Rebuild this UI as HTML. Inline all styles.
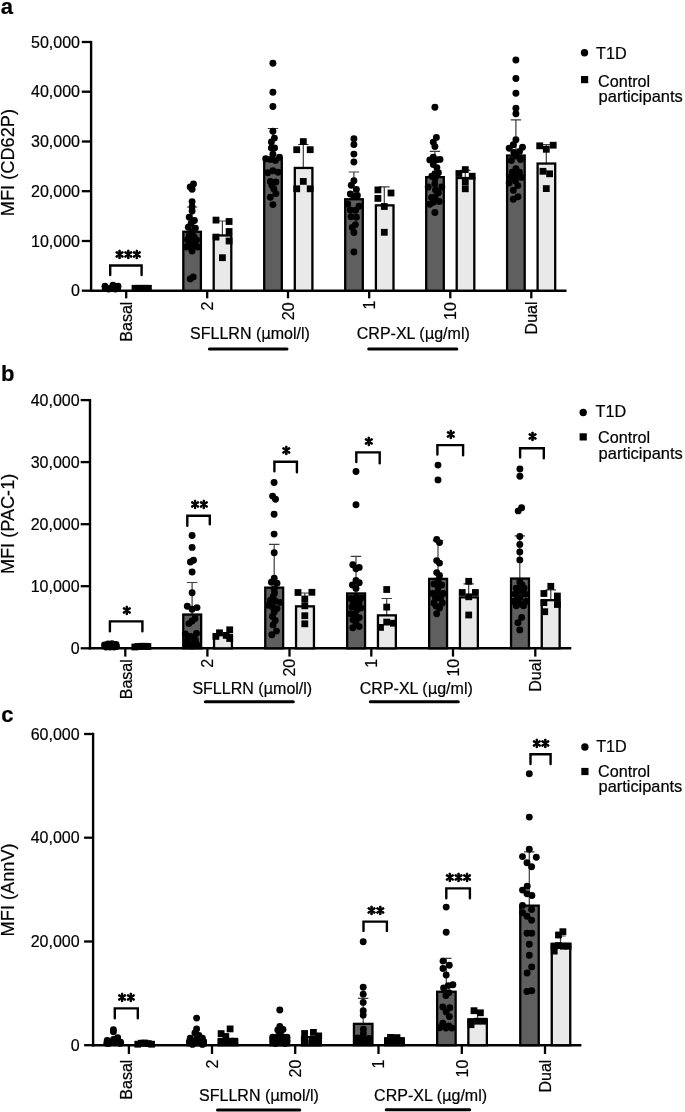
<!DOCTYPE html>
<html lang="en"><head><meta charset="utf-8"><title>Figure</title>
<style>
html,body{margin:0;padding:0;background:#fff}
svg{display:block;font-family:"Liberation Sans",sans-serif;fill:#000}
text{stroke:#000;stroke-width:0.2px}
</style></head><body>
<svg width="685" height="1112" viewBox="0 0 685 1112">
<rect width="685" height="1112" fill="#fff"/>
<g id="panelA">
<text x="0.8" y="14.2" font-size="22" text-anchor="start" font-weight="bold">a</text>
<line x1="91.1" y1="40.9" x2="91.1" y2="291.8" stroke="#000" stroke-width="2.4" stroke-linecap="butt"/>
<line x1="89.9" y1="290.7" x2="566.5" y2="290.7" stroke="#000" stroke-width="2.4" stroke-linecap="butt"/>
<line x1="81.8" y1="42.0" x2="91.1" y2="42.0" stroke="#000" stroke-width="2.3" stroke-linecap="butt"/>
<text x="80.0" y="47.7" font-size="16.0" text-anchor="end" >50,000</text>
<line x1="81.8" y1="91.7" x2="91.1" y2="91.7" stroke="#000" stroke-width="2.3" stroke-linecap="butt"/>
<text x="80.0" y="97.4" font-size="16.0" text-anchor="end" >40,000</text>
<line x1="81.8" y1="141.5" x2="91.1" y2="141.5" stroke="#000" stroke-width="2.3" stroke-linecap="butt"/>
<text x="80.0" y="147.2" font-size="16.0" text-anchor="end" >30,000</text>
<line x1="81.8" y1="191.2" x2="91.1" y2="191.2" stroke="#000" stroke-width="2.3" stroke-linecap="butt"/>
<text x="80.0" y="196.9" font-size="16.0" text-anchor="end" >20,000</text>
<line x1="81.8" y1="241.0" x2="91.1" y2="241.0" stroke="#000" stroke-width="2.3" stroke-linecap="butt"/>
<text x="80.0" y="246.7" font-size="16.0" text-anchor="end" >10,000</text>
<line x1="81.8" y1="290.7" x2="91.1" y2="290.7" stroke="#000" stroke-width="2.3" stroke-linecap="butt"/>
<text x="80.0" y="296.4" font-size="16.0" text-anchor="end" >0</text>
<text transform="translate(14.1 162.6) rotate(-90)" font-size="18.2" text-anchor="middle" >MFI (CD62P)</text>
<line x1="126.2" y1="290.7" x2="126.2" y2="298.3" stroke="#000" stroke-width="2.3" stroke-linecap="butt"/>
<line x1="207.2" y1="290.7" x2="207.2" y2="298.3" stroke="#000" stroke-width="2.3" stroke-linecap="butt"/>
<line x1="288.0" y1="290.7" x2="288.0" y2="298.3" stroke="#000" stroke-width="2.3" stroke-linecap="butt"/>
<line x1="369.2" y1="290.7" x2="369.2" y2="298.3" stroke="#000" stroke-width="2.3" stroke-linecap="butt"/>
<line x1="450.3" y1="290.7" x2="450.3" y2="298.3" stroke="#000" stroke-width="2.3" stroke-linecap="butt"/>
<line x1="531.3" y1="290.7" x2="531.3" y2="298.3" stroke="#000" stroke-width="2.3" stroke-linecap="butt"/>
<text transform="translate(131.9 301.6) rotate(-90)" font-size="16.0" text-anchor="end" >Basal</text>
<text transform="translate(212.8 301.5) rotate(-90)" font-size="16.0" text-anchor="end" >2</text>
<text transform="translate(293.7 302.4) rotate(-90)" font-size="16.0" text-anchor="end" >20</text>
<text transform="translate(374.9 300.6) rotate(-90)" font-size="16.0" text-anchor="end" >1</text>
<text transform="translate(455.9 302.2) rotate(-90)" font-size="16.0" text-anchor="end" >10</text>
<text transform="translate(537.0 301.5) rotate(-90)" font-size="16.0" text-anchor="end" >Dual</text>
<text x="250.0" y="339.2" font-size="16.0" text-anchor="middle" >SFLLRN (<tspan font-family="DejaVu Sans, sans-serif" font-size="15">μ</tspan>mol/l)</text>
<line x1="209.4" y1="349.1" x2="287.0" y2="349.1" stroke="#000" stroke-width="3.0" stroke-linecap="round"/>
<text x="413.3" y="339.4" font-size="16.0" text-anchor="middle" >CRP-XL (<tspan font-family="DejaVu Sans, sans-serif" font-size="15">μ</tspan>g/ml)</text>
<line x1="368.7" y1="349.1" x2="456.8" y2="349.1" stroke="#000" stroke-width="3.0" stroke-linecap="round"/>
<circle cx="584.5" cy="52.8" r="3.7"/>
<text x="596.0" y="58.7" font-size="16.2" text-anchor="start" >T1D</text>
<rect x="581.0" y="76.0" width="7.2" height="7.2"/>
<text x="598.0" y="86.8" font-size="16.2" text-anchor="start" >Control</text>
<text x="598.6" y="101.9" font-size="16.2" text-anchor="start" textLength="84.2" lengthAdjust="spacingAndGlyphs">participants</text>
<path d="M186.90 207.00H197.30M192.10 207.00V232.00" stroke="#3c3c3c" stroke-width="1.2" fill="none"/>
<path d="M217.20 221.00H227.60M222.40 221.00V236.00" stroke="#3c3c3c" stroke-width="1.2" fill="none"/>
<path d="M267.70 128.50H278.10M272.90 128.50V160.00" stroke="#3c3c3c" stroke-width="1.2" fill="none"/>
<path d="M298.10 144.50H308.50M303.30 144.50V168.00" stroke="#3c3c3c" stroke-width="1.2" fill="none"/>
<path d="M348.70 172.00H359.10M353.90 172.00V200.00" stroke="#3c3c3c" stroke-width="1.2" fill="none"/>
<path d="M379.10 186.80H389.50M384.30 186.80V206.00" stroke="#3c3c3c" stroke-width="1.2" fill="none"/>
<path d="M429.70 151.40H440.10M434.90 151.40V178.00" stroke="#3c3c3c" stroke-width="1.2" fill="none"/>
<path d="M460.10 170.40H470.50M465.30 170.40V179.00" stroke="#3c3c3c" stroke-width="1.2" fill="none"/>
<path d="M510.70 119.90H521.10M515.90 119.90V156.00" stroke="#3c3c3c" stroke-width="1.2" fill="none"/>
<path d="M541.10 144.60H551.50M546.30 144.60V164.00" stroke="#3c3c3c" stroke-width="1.2" fill="none"/>
<rect x="183.30" y="231.75" width="17.60" height="58.95" fill="#5f5f5f" stroke="#000" stroke-width="2.3"/>
<rect x="213.70" y="235.45" width="17.60" height="55.25" fill="#e9e9e9" stroke="#000" stroke-width="2.3"/>
<rect x="264.20" y="159.05" width="17.60" height="131.65" fill="#5f5f5f" stroke="#000" stroke-width="2.3"/>
<rect x="294.80" y="167.95" width="17.60" height="122.75" fill="#e9e9e9" stroke="#000" stroke-width="2.3"/>
<rect x="345.20" y="199.25" width="17.60" height="91.45" fill="#5f5f5f" stroke="#000" stroke-width="2.3"/>
<rect x="375.90" y="205.35" width="17.60" height="85.35" fill="#e9e9e9" stroke="#000" stroke-width="2.3"/>
<rect x="426.20" y="177.15" width="17.60" height="113.55" fill="#5f5f5f" stroke="#000" stroke-width="2.3"/>
<rect x="456.70" y="178.05" width="17.60" height="112.65" fill="#e9e9e9" stroke="#000" stroke-width="2.3"/>
<rect x="507.10" y="155.55" width="17.60" height="135.15" fill="#5f5f5f" stroke="#000" stroke-width="2.3"/>
<rect x="537.60" y="163.55" width="17.60" height="127.15" fill="#e9e9e9" stroke="#000" stroke-width="2.3"/>
<circle cx="105.0" cy="286.3" r="3.45"/>
<circle cx="113.0" cy="285.3" r="3.45"/>
<circle cx="118.0" cy="286.3" r="3.45"/>
<circle cx="108.5" cy="289.0" r="3.45"/>
<circle cx="115.5" cy="289.0" r="3.45"/>
<circle cx="111.0" cy="288.0" r="3.45"/>
<circle cx="105.3" cy="288.6" r="3.45"/>
<circle cx="117.6" cy="288.6" r="3.45"/>
<rect x="131.6" y="284.9" width="6.8" height="6.8"/>
<rect x="135.1" y="284.9" width="6.8" height="6.8"/>
<rect x="138.6" y="284.9" width="6.8" height="6.8"/>
<rect x="142.1" y="284.9" width="6.8" height="6.8"/>
<rect x="145.0" y="284.9" width="6.8" height="6.8"/>
<path d="M110.2 275.0V265.5H141.6V275.0" stroke="#000" stroke-width="2.4" fill="none" stroke-linecap="round" stroke-linejoin="miter"/>
<text x="128.2" y="261.0" font-family="IPAGothic, sans-serif" font-size="17.3" font-weight="bold" stroke="#000" stroke-width="0.35" text-anchor="middle">***</text>
<circle cx="193.5" cy="184.0" r="3.45"/>
<circle cx="190.2" cy="186.9" r="3.45"/>
<circle cx="192.1" cy="189.2" r="3.45"/>
<circle cx="192.1" cy="201.6" r="3.45"/>
<circle cx="192.1" cy="206.8" r="3.45"/>
<circle cx="192.1" cy="211.0" r="3.45"/>
<circle cx="189.2" cy="217.2" r="3.45"/>
<circle cx="194.4" cy="220.5" r="3.45"/>
<circle cx="191.1" cy="223.4" r="3.45"/>
<circle cx="188.3" cy="227.2" r="3.45"/>
<circle cx="195.4" cy="228.1" r="3.45"/>
<circle cx="189.2" cy="235.7" r="3.45"/>
<circle cx="194.0" cy="236.7" r="3.45"/>
<circle cx="191.0" cy="241.4" r="3.45"/>
<circle cx="186.4" cy="247.0" r="3.45"/>
<circle cx="197.8" cy="247.0" r="3.45"/>
<circle cx="192.0" cy="251.0" r="3.45"/>
<circle cx="189.0" cy="244.5" r="3.45"/>
<circle cx="195.0" cy="244.5" r="3.45"/>
<circle cx="192.0" cy="247.5" r="3.45"/>
<circle cx="192.0" cy="232.0" r="3.45"/>
<circle cx="187.5" cy="239.5" r="3.45"/>
<circle cx="196.5" cy="240.0" r="3.45"/>
<circle cx="190.2" cy="278.9" r="3.45"/>
<circle cx="193.2" cy="276.9" r="3.45"/>
<rect x="212.6" y="216.7" width="6.8" height="6.8"/>
<rect x="225.7" y="218.1" width="6.8" height="6.8"/>
<rect x="225.7" y="228.1" width="6.8" height="6.8"/>
<rect x="212.6" y="233.7" width="6.8" height="6.8"/>
<rect x="225.7" y="237.6" width="6.8" height="6.8"/>
<rect x="219.0" y="254.3" width="6.8" height="6.8"/>
<circle cx="272.9" cy="63.3" r="3.45"/>
<circle cx="272.9" cy="92.2" r="3.45"/>
<circle cx="272.9" cy="106.5" r="3.45"/>
<circle cx="272.9" cy="131.2" r="3.45"/>
<circle cx="274.4" cy="138.1" r="3.45"/>
<circle cx="271.4" cy="142.0" r="3.45"/>
<circle cx="271.4" cy="147.9" r="3.45"/>
<circle cx="274.6" cy="147.9" r="3.45"/>
<circle cx="272.9" cy="154.2" r="3.45"/>
<circle cx="279.5" cy="157.3" r="3.45"/>
<circle cx="265.7" cy="158.8" r="3.45"/>
<circle cx="270.3" cy="159.4" r="3.45"/>
<circle cx="275.4" cy="160.4" r="3.45"/>
<circle cx="267.8" cy="172.7" r="3.45"/>
<circle cx="272.9" cy="170.7" r="3.45"/>
<circle cx="278.0" cy="172.2" r="3.45"/>
<circle cx="270.3" cy="181.4" r="3.45"/>
<circle cx="275.9" cy="181.9" r="3.45"/>
<circle cx="271.9" cy="185.5" r="3.45"/>
<circle cx="273.9" cy="189.0" r="3.45"/>
<circle cx="275.9" cy="193.6" r="3.45"/>
<circle cx="270.3" cy="197.2" r="3.45"/>
<circle cx="272.9" cy="204.6" r="3.45"/>
<rect x="299.9" y="138.2" width="6.8" height="6.8"/>
<rect x="293.3" y="146.3" width="6.8" height="6.8"/>
<rect x="306.8" y="146.3" width="6.8" height="6.8"/>
<rect x="299.9" y="178.0" width="6.8" height="6.8"/>
<rect x="293.3" y="185.4" width="6.8" height="6.8"/>
<rect x="306.8" y="185.4" width="6.8" height="6.8"/>
<circle cx="353.9" cy="138.8" r="3.45"/>
<circle cx="353.9" cy="144.6" r="3.45"/>
<circle cx="353.9" cy="154.1" r="3.45"/>
<circle cx="353.9" cy="162.0" r="3.45"/>
<circle cx="353.9" cy="180.7" r="3.45"/>
<circle cx="351.3" cy="185.3" r="3.45"/>
<circle cx="356.4" cy="189.4" r="3.45"/>
<circle cx="350.3" cy="194.0" r="3.45"/>
<circle cx="357.4" cy="195.5" r="3.45"/>
<circle cx="353.9" cy="196.5" r="3.45"/>
<circle cx="347.7" cy="204.0" r="3.45"/>
<circle cx="359.0" cy="206.2" r="3.45"/>
<circle cx="350.3" cy="210.0" r="3.45"/>
<circle cx="355.6" cy="210.3" r="3.45"/>
<circle cx="351.0" cy="216.8" r="3.45"/>
<circle cx="356.4" cy="217.3" r="3.45"/>
<circle cx="355.4" cy="224.6" r="3.45"/>
<circle cx="352.3" cy="227.5" r="3.45"/>
<circle cx="353.9" cy="232.5" r="3.45"/>
<circle cx="353.9" cy="252.0" r="3.45"/>
<rect x="374.5" y="186.5" width="6.8" height="6.8"/>
<rect x="387.6" y="189.6" width="6.8" height="6.8"/>
<rect x="374.5" y="195.0" width="6.8" height="6.8"/>
<rect x="380.9" y="203.1" width="6.8" height="6.8"/>
<rect x="380.9" y="228.9" width="6.8" height="6.8"/>
<circle cx="434.9" cy="107.3" r="3.45"/>
<circle cx="436.4" cy="137.4" r="3.45"/>
<circle cx="433.3" cy="142.2" r="3.45"/>
<circle cx="434.9" cy="146.6" r="3.45"/>
<circle cx="433.3" cy="157.3" r="3.45"/>
<circle cx="429.8" cy="159.9" r="3.45"/>
<circle cx="440.0" cy="159.4" r="3.45"/>
<circle cx="433.3" cy="164.5" r="3.45"/>
<circle cx="436.9" cy="167.6" r="3.45"/>
<circle cx="438.4" cy="172.7" r="3.45"/>
<circle cx="434.9" cy="173.7" r="3.45"/>
<circle cx="431.8" cy="176.2" r="3.45"/>
<circle cx="434.9" cy="183.9" r="3.45"/>
<circle cx="428.2" cy="187.0" r="3.45"/>
<circle cx="441.8" cy="187.0" r="3.45"/>
<circle cx="438.4" cy="192.8" r="3.45"/>
<circle cx="431.6" cy="197.5" r="3.45"/>
<circle cx="439.2" cy="201.5" r="3.45"/>
<circle cx="433.3" cy="202.3" r="3.45"/>
<circle cx="429.8" cy="204.3" r="3.45"/>
<circle cx="434.9" cy="212.5" r="3.45"/>
<circle cx="434.9" cy="178.5" r="3.45"/>
<circle cx="435.5" cy="190.0" r="3.45"/>
<circle cx="435.0" cy="197.0" r="3.45"/>
<circle cx="436.5" cy="159.8" r="3.45"/>
<rect x="461.9" y="166.2" width="6.8" height="6.8"/>
<rect x="455.5" y="170.1" width="6.8" height="6.8"/>
<rect x="468.8" y="172.8" width="6.8" height="6.8"/>
<rect x="461.9" y="178.5" width="6.8" height="6.8"/>
<rect x="461.9" y="185.4" width="6.8" height="6.8"/>
<circle cx="515.9" cy="60.0" r="3.45"/>
<circle cx="515.9" cy="78.5" r="3.45"/>
<circle cx="515.9" cy="93.2" r="3.45"/>
<circle cx="515.9" cy="108.2" r="3.45"/>
<circle cx="515.9" cy="113.7" r="3.45"/>
<circle cx="515.9" cy="139.8" r="3.45"/>
<circle cx="513.3" cy="144.7" r="3.45"/>
<circle cx="509.2" cy="148.3" r="3.45"/>
<circle cx="522.5" cy="147.3" r="3.45"/>
<circle cx="519.5" cy="151.4" r="3.45"/>
<circle cx="513.8" cy="152.4" r="3.45"/>
<circle cx="511.3" cy="160.5" r="3.45"/>
<circle cx="520.5" cy="159.5" r="3.45"/>
<circle cx="515.9" cy="168.7" r="3.45"/>
<circle cx="512.3" cy="172.3" r="3.45"/>
<circle cx="519.5" cy="172.3" r="3.45"/>
<circle cx="511.3" cy="176.9" r="3.45"/>
<circle cx="521.5" cy="177.4" r="3.45"/>
<circle cx="515.9" cy="175.9" r="3.45"/>
<circle cx="509.2" cy="183.0" r="3.45"/>
<circle cx="517.9" cy="185.6" r="3.45"/>
<circle cx="513.3" cy="190.2" r="3.45"/>
<circle cx="517.9" cy="196.8" r="3.45"/>
<circle cx="513.3" cy="199.2" r="3.45"/>
<circle cx="516.0" cy="156.0" r="3.45"/>
<circle cx="515.5" cy="181.0" r="3.45"/>
<rect x="536.3" y="142.4" width="6.8" height="6.8"/>
<rect x="549.8" y="141.8" width="6.8" height="6.8"/>
<rect x="542.9" y="145.9" width="6.8" height="6.8"/>
<rect x="539.6" y="167.9" width="6.8" height="6.8"/>
<rect x="546.2" y="170.4" width="6.8" height="6.8"/>
<rect x="542.9" y="185.2" width="6.8" height="6.8"/>
</g>
<g id="panelB">
<text x="1.0" y="381.3" font-size="22" text-anchor="start" font-weight="bold">b</text>
<line x1="90.0" y1="399.0" x2="90.0" y2="649.4" stroke="#000" stroke-width="2.4" stroke-linecap="butt"/>
<line x1="88.8" y1="648.3" x2="571.3" y2="648.3" stroke="#000" stroke-width="2.4" stroke-linecap="butt"/>
<line x1="80.7" y1="400.1" x2="90.0" y2="400.1" stroke="#000" stroke-width="2.3" stroke-linecap="butt"/>
<text x="79.6" y="405.8" font-size="16.0" text-anchor="end" >40,000</text>
<line x1="80.7" y1="462.1" x2="90.0" y2="462.1" stroke="#000" stroke-width="2.3" stroke-linecap="butt"/>
<text x="79.6" y="467.8" font-size="16.0" text-anchor="end" >30,000</text>
<line x1="80.7" y1="524.2" x2="90.0" y2="524.2" stroke="#000" stroke-width="2.3" stroke-linecap="butt"/>
<text x="79.6" y="529.9" font-size="16.0" text-anchor="end" >20,000</text>
<line x1="80.7" y1="586.2" x2="90.0" y2="586.2" stroke="#000" stroke-width="2.3" stroke-linecap="butt"/>
<text x="79.6" y="592.0" font-size="16.0" text-anchor="end" >10,000</text>
<line x1="80.7" y1="648.3" x2="90.0" y2="648.3" stroke="#000" stroke-width="2.3" stroke-linecap="butt"/>
<text x="79.6" y="654.0" font-size="16.0" text-anchor="end" >0</text>
<text transform="translate(14.1 523.9) rotate(-90)" font-size="18.2" text-anchor="middle" textLength="100.4">MFI (PAC-1)</text>
<line x1="125.3" y1="648.3" x2="125.3" y2="656.6" stroke="#000" stroke-width="2.3" stroke-linecap="butt"/>
<line x1="207.4" y1="648.3" x2="207.4" y2="656.6" stroke="#000" stroke-width="2.3" stroke-linecap="butt"/>
<line x1="289.5" y1="648.3" x2="289.5" y2="656.6" stroke="#000" stroke-width="2.3" stroke-linecap="butt"/>
<line x1="371.3" y1="648.3" x2="371.3" y2="656.6" stroke="#000" stroke-width="2.3" stroke-linecap="butt"/>
<line x1="453.0" y1="648.3" x2="453.0" y2="656.6" stroke="#000" stroke-width="2.3" stroke-linecap="butt"/>
<line x1="535.3" y1="648.3" x2="535.3" y2="656.6" stroke="#000" stroke-width="2.3" stroke-linecap="butt"/>
<text transform="translate(132.2 659.2) rotate(-90)" font-size="16.0" text-anchor="end" >Basal</text>
<text transform="translate(213.1 658.8) rotate(-90)" font-size="16.0" text-anchor="end" >2</text>
<text transform="translate(295.2 658.8) rotate(-90)" font-size="16.0" text-anchor="end" >20</text>
<text transform="translate(377.0 658.8) rotate(-90)" font-size="16.0" text-anchor="end" >1</text>
<text transform="translate(458.7 658.8) rotate(-90)" font-size="16.0" text-anchor="end" >10</text>
<text transform="translate(541.0 658.8) rotate(-90)" font-size="16.0" text-anchor="end" >Dual</text>
<text x="252.3" y="694.0" font-size="16.0" text-anchor="middle" >SFLLRN (<tspan font-family="DejaVu Sans, sans-serif" font-size="15">μ</tspan>mol/l)</text>
<line x1="205.3" y1="701.7" x2="293.3" y2="701.7" stroke="#000" stroke-width="3.0" stroke-linecap="round"/>
<text x="416.3" y="694.0" font-size="16.0" text-anchor="middle" >CRP-XL (<tspan font-family="DejaVu Sans, sans-serif" font-size="15">μ</tspan>g/ml)</text>
<line x1="370.3" y1="701.7" x2="458.3" y2="701.7" stroke="#000" stroke-width="3.0" stroke-linecap="round"/>
<circle cx="583.2" cy="412.5" r="3.7"/>
<text x="595.6" y="417.0" font-size="16.2" text-anchor="start" >T1D</text>
<rect x="579.6" y="433.3" width="7.2" height="7.2"/>
<text x="598.0" y="443.0" font-size="16.2" text-anchor="start" >Control</text>
<text x="598.6" y="458.8" font-size="16.2" text-anchor="start" textLength="84.2" lengthAdjust="spacingAndGlyphs">participants</text>
<path d="M186.90 582.50H197.30M192.10 582.50V615.00" stroke="#3c3c3c" stroke-width="1.2" fill="none"/>
<path d="M269.00 544.30H279.40M274.20 544.30V588.00" stroke="#3c3c3c" stroke-width="1.2" fill="none"/>
<path d="M299.60 593.00H310.00M304.80 593.00V606.00" stroke="#3c3c3c" stroke-width="1.2" fill="none"/>
<path d="M350.80 556.30H361.20M356.00 556.30V594.00" stroke="#3c3c3c" stroke-width="1.2" fill="none"/>
<path d="M381.50 598.50H391.90M386.70 598.50V615.00" stroke="#3c3c3c" stroke-width="1.2" fill="none"/>
<path d="M432.80 540.60H443.20M438.00 540.60V579.00" stroke="#3c3c3c" stroke-width="1.2" fill="none"/>
<path d="M463.50 583.90H473.90M468.70 583.90V597.00" stroke="#3c3c3c" stroke-width="1.2" fill="none"/>
<path d="M514.60 535.90H525.00M519.80 535.90V579.00" stroke="#3c3c3c" stroke-width="1.2" fill="none"/>
<path d="M545.60 589.90H556.00M550.80 589.90V600.00" stroke="#3c3c3c" stroke-width="1.2" fill="none"/>
<rect x="183.25" y="614.55" width="17.90" height="33.75" fill="#5f5f5f" stroke="#000" stroke-width="2.3"/>
<rect x="214.05" y="635.05" width="17.90" height="13.25" fill="#e9e9e9" stroke="#000" stroke-width="2.3"/>
<rect x="265.25" y="587.65" width="17.90" height="60.65" fill="#5f5f5f" stroke="#000" stroke-width="2.3"/>
<rect x="296.05" y="606.35" width="17.90" height="41.95" fill="#e9e9e9" stroke="#000" stroke-width="2.3"/>
<rect x="347.15" y="593.45" width="17.90" height="54.85" fill="#5f5f5f" stroke="#000" stroke-width="2.3"/>
<rect x="377.95" y="615.35" width="17.90" height="32.95" fill="#e9e9e9" stroke="#000" stroke-width="2.3"/>
<rect x="429.15" y="578.85" width="17.90" height="69.45" fill="#5f5f5f" stroke="#000" stroke-width="2.3"/>
<rect x="459.95" y="597.35" width="17.90" height="50.95" fill="#e9e9e9" stroke="#000" stroke-width="2.3"/>
<rect x="511.05" y="578.55" width="17.90" height="69.75" fill="#5f5f5f" stroke="#000" stroke-width="2.3"/>
<rect x="541.75" y="600.15" width="17.90" height="48.15" fill="#e9e9e9" stroke="#000" stroke-width="2.3"/>
<circle cx="104.5" cy="645.0" r="3.45"/>
<circle cx="108.0" cy="644.0" r="3.45"/>
<circle cx="112.0" cy="643.8" r="3.45"/>
<circle cx="116.0" cy="644.5" r="3.45"/>
<circle cx="106.0" cy="647.0" r="3.45"/>
<circle cx="110.0" cy="647.0" r="3.45"/>
<circle cx="114.0" cy="647.0" r="3.45"/>
<circle cx="116.5" cy="646.5" r="3.45"/>
<rect x="131.4" y="643.6" width="6.8" height="6.8"/>
<rect x="134.6" y="643.1" width="6.8" height="6.8"/>
<rect x="138.1" y="642.9" width="6.8" height="6.8"/>
<rect x="141.6" y="642.9" width="6.8" height="6.8"/>
<rect x="144.5" y="643.1" width="6.8" height="6.8"/>
<path d="M109.9 631.2V621.4H142.4V631.2" stroke="#000" stroke-width="2.4" fill="none" stroke-linecap="round" stroke-linejoin="miter"/>
<text x="126.7" y="616.7" font-family="IPAGothic, sans-serif" font-size="17.3" font-weight="bold" stroke="#000" stroke-width="0.35" text-anchor="middle">*</text>
<circle cx="192.1" cy="535.5" r="3.45"/>
<circle cx="192.1" cy="547.4" r="3.45"/>
<circle cx="193.5" cy="560.3" r="3.45"/>
<circle cx="190.4" cy="562.0" r="3.45"/>
<circle cx="192.1" cy="572.0" r="3.45"/>
<circle cx="192.1" cy="592.7" r="3.45"/>
<circle cx="187.3" cy="606.3" r="3.45"/>
<circle cx="197.0" cy="607.6" r="3.45"/>
<circle cx="192.1" cy="609.3" r="3.45"/>
<circle cx="195.0" cy="618.5" r="3.45"/>
<circle cx="188.9" cy="623.6" r="3.45"/>
<circle cx="192.1" cy="621.0" r="3.45"/>
<circle cx="185.3" cy="633.9" r="3.45"/>
<circle cx="196.5" cy="633.4" r="3.45"/>
<circle cx="190.4" cy="636.4" r="3.45"/>
<circle cx="187.3" cy="640.5" r="3.45"/>
<circle cx="195.5" cy="640.5" r="3.45"/>
<circle cx="191.4" cy="643.6" r="3.45"/>
<circle cx="186.3" cy="645.1" r="3.45"/>
<circle cx="197.5" cy="645.1" r="3.45"/>
<circle cx="188.0" cy="637.0" r="3.45"/>
<circle cx="194.0" cy="638.0" r="3.45"/>
<circle cx="192.0" cy="646.0" r="3.45"/>
<rect x="226.3" y="626.4" width="6.8" height="6.8"/>
<rect x="216.1" y="629.4" width="6.8" height="6.8"/>
<rect x="212.5" y="633.0" width="6.8" height="6.8"/>
<rect x="222.8" y="632.0" width="6.8" height="6.8"/>
<rect x="226.3" y="635.1" width="6.8" height="6.8"/>
<path d="M187.3 525.8V515.8H209.8V524.2" stroke="#000" stroke-width="2.4" fill="none" stroke-linecap="round" stroke-linejoin="miter"/>
<text x="199.5" y="511.0" font-family="IPAGothic, sans-serif" font-size="17.3" font-weight="bold" stroke="#000" stroke-width="0.35" text-anchor="middle">**</text>
<circle cx="274.1" cy="482.5" r="3.45"/>
<circle cx="272.6" cy="496.1" r="3.45"/>
<circle cx="275.5" cy="499.2" r="3.45"/>
<circle cx="274.1" cy="514.2" r="3.45"/>
<circle cx="274.1" cy="534.1" r="3.45"/>
<circle cx="274.2" cy="552.8" r="3.45"/>
<circle cx="274.2" cy="578.3" r="3.45"/>
<circle cx="271.4" cy="582.2" r="3.45"/>
<circle cx="277.0" cy="583.3" r="3.45"/>
<circle cx="274.2" cy="588.9" r="3.45"/>
<circle cx="273.1" cy="596.8" r="3.45"/>
<circle cx="275.3" cy="601.3" r="3.45"/>
<circle cx="280.4" cy="602.4" r="3.45"/>
<circle cx="268.6" cy="605.2" r="3.45"/>
<circle cx="272.5" cy="606.9" r="3.45"/>
<circle cx="277.0" cy="608.6" r="3.45"/>
<circle cx="272.5" cy="616.5" r="3.45"/>
<circle cx="275.3" cy="620.4" r="3.45"/>
<circle cx="273.1" cy="624.9" r="3.45"/>
<circle cx="276.5" cy="631.1" r="3.45"/>
<circle cx="271.8" cy="634.8" r="3.45"/>
<circle cx="274.2" cy="612.0" r="3.45"/>
<circle cx="274.5" cy="593.0" r="3.45"/>
<circle cx="270.5" cy="600.5" r="3.45"/>
<rect x="294.6" y="589.1" width="6.8" height="6.8"/>
<rect x="308.5" y="588.9" width="6.8" height="6.8"/>
<rect x="301.4" y="595.6" width="6.8" height="6.8"/>
<rect x="301.4" y="602.4" width="6.8" height="6.8"/>
<rect x="301.4" y="612.3" width="6.8" height="6.8"/>
<rect x="301.4" y="620.4" width="6.8" height="6.8"/>
<path d="M274.4 471.3V461.8H296.9V472.3" stroke="#000" stroke-width="2.4" fill="none" stroke-linecap="round" stroke-linejoin="miter"/>
<text x="286.4" y="457.0" font-family="IPAGothic, sans-serif" font-size="17.3" font-weight="bold" stroke="#000" stroke-width="0.35" text-anchor="middle">*</text>
<circle cx="356.0" cy="471.5" r="3.45"/>
<circle cx="356.0" cy="504.8" r="3.45"/>
<circle cx="352.8" cy="564.8" r="3.45"/>
<circle cx="359.2" cy="567.4" r="3.45"/>
<circle cx="356.0" cy="568.7" r="3.45"/>
<circle cx="356.0" cy="580.5" r="3.45"/>
<circle cx="359.2" cy="582.8" r="3.45"/>
<circle cx="352.4" cy="585.0" r="3.45"/>
<circle cx="356.0" cy="588.4" r="3.45"/>
<circle cx="350.7" cy="598.5" r="3.45"/>
<circle cx="356.0" cy="597.4" r="3.45"/>
<circle cx="361.4" cy="597.9" r="3.45"/>
<circle cx="356.0" cy="603.5" r="3.45"/>
<circle cx="351.9" cy="606.9" r="3.45"/>
<circle cx="360.8" cy="608.0" r="3.45"/>
<circle cx="356.9" cy="609.7" r="3.45"/>
<circle cx="350.7" cy="613.7" r="3.45"/>
<circle cx="359.2" cy="617.6" r="3.45"/>
<circle cx="353.0" cy="619.8" r="3.45"/>
<circle cx="359.2" cy="626.6" r="3.45"/>
<circle cx="352.8" cy="627.7" r="3.45"/>
<circle cx="355.0" cy="614.5" r="3.45"/>
<circle cx="356.0" cy="622.5" r="3.45"/>
<circle cx="353.0" cy="601.5" r="3.45"/>
<circle cx="359.0" cy="602.5" r="3.45"/>
<rect x="383.3" y="586.1" width="6.8" height="6.8"/>
<rect x="383.3" y="603.7" width="6.8" height="6.8"/>
<rect x="383.3" y="618.7" width="6.8" height="6.8"/>
<rect x="390.0" y="619.8" width="6.8" height="6.8"/>
<rect x="377.1" y="624.0" width="6.8" height="6.8"/>
<path d="M356.3 462.1V452.4H379.7V463.3" stroke="#000" stroke-width="2.4" fill="none" stroke-linecap="round" stroke-linejoin="miter"/>
<text x="368.9" y="448.0" font-family="IPAGothic, sans-serif" font-size="17.3" font-weight="bold" stroke="#000" stroke-width="0.35" text-anchor="middle">*</text>
<circle cx="438.0" cy="465.1" r="3.45"/>
<circle cx="438.0" cy="479.9" r="3.45"/>
<circle cx="436.7" cy="539.5" r="3.45"/>
<circle cx="439.5" cy="542.6" r="3.45"/>
<circle cx="436.7" cy="560.6" r="3.45"/>
<circle cx="439.5" cy="563.1" r="3.45"/>
<circle cx="436.7" cy="572.6" r="3.45"/>
<circle cx="439.5" cy="575.4" r="3.45"/>
<circle cx="433.9" cy="583.9" r="3.45"/>
<circle cx="441.7" cy="585.0" r="3.45"/>
<circle cx="438.0" cy="586.7" r="3.45"/>
<circle cx="432.7" cy="593.4" r="3.45"/>
<circle cx="443.4" cy="593.4" r="3.45"/>
<circle cx="438.0" cy="597.9" r="3.45"/>
<circle cx="433.9" cy="603.0" r="3.45"/>
<circle cx="442.3" cy="603.0" r="3.45"/>
<circle cx="439.5" cy="608.0" r="3.45"/>
<circle cx="436.7" cy="613.7" r="3.45"/>
<circle cx="438.0" cy="591.5" r="3.45"/>
<circle cx="436.0" cy="606.0" r="3.45"/>
<circle cx="438.0" cy="580.5" r="3.45"/>
<circle cx="435.5" cy="598.0" r="3.45"/>
<circle cx="440.5" cy="598.0" r="3.45"/>
<rect x="465.3" y="577.9" width="6.8" height="6.8"/>
<rect x="458.8" y="589.1" width="6.8" height="6.8"/>
<rect x="472.0" y="589.1" width="6.8" height="6.8"/>
<rect x="465.3" y="593.4" width="6.8" height="6.8"/>
<rect x="465.3" y="611.6" width="6.8" height="6.8"/>
<path d="M437.4 454.6V445.1H463.1V455.3" stroke="#000" stroke-width="2.4" fill="none" stroke-linecap="round" stroke-linejoin="miter"/>
<text x="450.9" y="440.5" font-family="IPAGothic, sans-serif" font-size="17.3" font-weight="bold" stroke="#000" stroke-width="0.35" text-anchor="middle">*</text>
<circle cx="519.9" cy="469.0" r="3.45"/>
<circle cx="519.9" cy="476.3" r="3.45"/>
<circle cx="521.6" cy="507.8" r="3.45"/>
<circle cx="518.2" cy="510.9" r="3.45"/>
<circle cx="519.8" cy="536.5" r="3.45"/>
<circle cx="519.8" cy="544.4" r="3.45"/>
<circle cx="519.8" cy="551.9" r="3.45"/>
<circle cx="519.8" cy="559.9" r="3.45"/>
<circle cx="519.8" cy="582.0" r="3.45"/>
<circle cx="516.2" cy="588.1" r="3.45"/>
<circle cx="524.1" cy="588.1" r="3.45"/>
<circle cx="515.0" cy="594.1" r="3.45"/>
<circle cx="525.3" cy="594.1" r="3.45"/>
<circle cx="519.8" cy="597.8" r="3.45"/>
<circle cx="513.8" cy="601.4" r="3.45"/>
<circle cx="525.9" cy="601.4" r="3.45"/>
<circle cx="516.2" cy="605.7" r="3.45"/>
<circle cx="523.5" cy="605.7" r="3.45"/>
<circle cx="521.7" cy="617.4" r="3.45"/>
<circle cx="518.0" cy="622.7" r="3.45"/>
<circle cx="519.8" cy="629.9" r="3.45"/>
<circle cx="520.0" cy="591.0" r="3.45"/>
<circle cx="520.0" cy="604.0" r="3.45"/>
<circle cx="518.0" cy="598.5" r="3.45"/>
<circle cx="522.0" cy="585.0" r="3.45"/>
<rect x="547.4" y="582.9" width="6.8" height="6.8"/>
<rect x="540.5" y="590.1" width="6.8" height="6.8"/>
<rect x="554.0" y="592.6" width="6.8" height="6.8"/>
<rect x="540.5" y="599.2" width="6.8" height="6.8"/>
<rect x="554.0" y="601.1" width="6.8" height="6.8"/>
<rect x="541.3" y="608.3" width="6.8" height="6.8"/>
<path d="M520.1 457.4V448.2H543.8V458.3" stroke="#000" stroke-width="2.4" fill="none" stroke-linecap="round" stroke-linejoin="miter"/>
<text x="532.5" y="443.2" font-family="IPAGothic, sans-serif" font-size="17.3" font-weight="bold" stroke="#000" stroke-width="0.35" text-anchor="middle">*</text>
</g>
<g id="panelC">
<text x="1.2" y="722.4" font-size="22" text-anchor="start" font-weight="bold">c</text>
<line x1="93.1" y1="732.8" x2="93.1" y2="1046.4" stroke="#000" stroke-width="2.4" stroke-linecap="butt"/>
<line x1="91.9" y1="1045.2" x2="581.4" y2="1045.2" stroke="#000" stroke-width="2.4" stroke-linecap="butt"/>
<line x1="84.1" y1="734.0" x2="93.1" y2="734.0" stroke="#000" stroke-width="2.3" stroke-linecap="butt"/>
<text x="79.6" y="739.7" font-size="16.0" text-anchor="end" >60,000</text>
<line x1="84.1" y1="837.7" x2="93.1" y2="837.7" stroke="#000" stroke-width="2.3" stroke-linecap="butt"/>
<text x="79.6" y="843.4" font-size="16.0" text-anchor="end" >40,000</text>
<line x1="84.1" y1="941.5" x2="93.1" y2="941.5" stroke="#000" stroke-width="2.3" stroke-linecap="butt"/>
<text x="79.6" y="947.2" font-size="16.0" text-anchor="end" >20,000</text>
<line x1="84.1" y1="1045.2" x2="93.1" y2="1045.2" stroke="#000" stroke-width="2.3" stroke-linecap="butt"/>
<text x="79.6" y="1050.9" font-size="16.0" text-anchor="end" >0</text>
<text transform="translate(14.1 889.9) rotate(-90)" font-size="18.2" text-anchor="middle" >MFI (AnnV)</text>
<line x1="128.9" y1="1045.2" x2="128.9" y2="1054.0" stroke="#000" stroke-width="2.3" stroke-linecap="butt"/>
<line x1="212.0" y1="1045.2" x2="212.0" y2="1054.0" stroke="#000" stroke-width="2.3" stroke-linecap="butt"/>
<line x1="295.2" y1="1045.2" x2="295.2" y2="1054.0" stroke="#000" stroke-width="2.3" stroke-linecap="butt"/>
<line x1="378.5" y1="1045.2" x2="378.5" y2="1054.0" stroke="#000" stroke-width="2.3" stroke-linecap="butt"/>
<line x1="461.8" y1="1045.2" x2="461.8" y2="1054.0" stroke="#000" stroke-width="2.3" stroke-linecap="butt"/>
<line x1="545.0" y1="1045.2" x2="545.0" y2="1054.0" stroke="#000" stroke-width="2.3" stroke-linecap="butt"/>
<text transform="translate(132.0 1059.6) rotate(-90)" font-size="16.0" text-anchor="end" >Basal</text>
<text transform="translate(217.7 1059.6) rotate(-90)" font-size="16.0" text-anchor="end" >2</text>
<text transform="translate(300.9 1059.6) rotate(-90)" font-size="16.0" text-anchor="end" >20</text>
<text transform="translate(384.2 1059.6) rotate(-90)" font-size="16.0" text-anchor="end" >1</text>
<text transform="translate(467.5 1059.6) rotate(-90)" font-size="16.0" text-anchor="end" >10</text>
<text transform="translate(550.7 1059.6) rotate(-90)" font-size="16.0" text-anchor="end" >Dual</text>
<text x="259.0" y="1100.6" font-size="16.0" text-anchor="middle" >SFLLRN (<tspan font-family="DejaVu Sans, sans-serif" font-size="15">μ</tspan>mol/l)</text>
<line x1="217.5" y1="1110.0" x2="299.8" y2="1110.0" stroke="#000" stroke-width="3.0" stroke-linecap="round"/>
<text x="430.6" y="1100.6" font-size="16.0" text-anchor="middle" >CRP-XL (<tspan font-family="DejaVu Sans, sans-serif" font-size="15">μ</tspan>g/ml)</text>
<line x1="386.2" y1="1109.8" x2="469.7" y2="1109.8" stroke="#000" stroke-width="3.0" stroke-linecap="round"/>
<circle cx="584.9" cy="747.0" r="3.7"/>
<text x="596.2" y="752.4" font-size="16.2" text-anchor="start" >T1D</text>
<rect x="581.3" y="767.9" width="7.2" height="7.2"/>
<text x="598.0" y="776.7" font-size="16.2" text-anchor="start" >Control</text>
<text x="598.6" y="792.0" font-size="16.2" text-anchor="start" textLength="83.6" lengthAdjust="spacingAndGlyphs">participants</text>
<path d="M358.00 998.30H368.40M363.20 998.30V1024.00" stroke="#3c3c3c" stroke-width="1.2" fill="none"/>
<path d="M441.10 958.30H451.50M446.30 958.30V992.00" stroke="#3c3c3c" stroke-width="1.2" fill="none"/>
<path d="M472.30 1013.00H482.70M477.50 1013.00V1019.00" stroke="#3c3c3c" stroke-width="1.2" fill="none"/>
<path d="M524.10 851.90H534.50M529.30 851.90V906.00" stroke="#3c3c3c" stroke-width="1.2" fill="none"/>
<path d="M555.30 936.00H565.70M560.50 936.00V943.00" stroke="#3c3c3c" stroke-width="1.2" fill="none"/>
<rect x="187.35" y="1040.65" width="18.50" height="4.55" fill="#5f5f5f" stroke="#000" stroke-width="2.3"/>
<rect x="218.75" y="1039.65" width="18.50" height="5.55" fill="#e9e9e9" stroke="#000" stroke-width="2.3"/>
<rect x="270.55" y="1038.65" width="18.50" height="6.55" fill="#5f5f5f" stroke="#000" stroke-width="2.3"/>
<rect x="302.05" y="1037.15" width="18.50" height="8.05" fill="#e9e9e9" stroke="#000" stroke-width="2.3"/>
<rect x="353.95" y="1023.85" width="18.50" height="21.35" fill="#5f5f5f" stroke="#000" stroke-width="2.3"/>
<rect x="385.25" y="1038.65" width="18.50" height="6.55" fill="#e9e9e9" stroke="#000" stroke-width="2.3"/>
<rect x="437.15" y="991.75" width="18.50" height="53.45" fill="#5f5f5f" stroke="#000" stroke-width="2.3"/>
<rect x="468.35" y="1019.45" width="18.50" height="25.75" fill="#e9e9e9" stroke="#000" stroke-width="2.3"/>
<rect x="520.25" y="905.65" width="18.50" height="139.55" fill="#5f5f5f" stroke="#000" stroke-width="2.3"/>
<rect x="551.75" y="943.75" width="18.50" height="101.45" fill="#e9e9e9" stroke="#000" stroke-width="2.3"/>
<circle cx="113.4" cy="1029.6" r="3.45"/>
<circle cx="113.4" cy="1031.8" r="3.45"/>
<circle cx="117.7" cy="1037.6" r="3.45"/>
<circle cx="107.2" cy="1040.5" r="3.45"/>
<circle cx="111.9" cy="1042.2" r="3.45"/>
<circle cx="120.6" cy="1042.2" r="3.45"/>
<circle cx="115.4" cy="1042.8" r="3.45"/>
<circle cx="108.9" cy="1043.4" r="3.45"/>
<circle cx="106.8" cy="1043.2" r="3.45"/>
<circle cx="120.2" cy="1043.4" r="3.45"/>
<circle cx="113.5" cy="1039.5" r="3.45"/>
<rect x="134.4" y="1040.8" width="6.8" height="6.8"/>
<rect x="137.8" y="1039.8" width="6.8" height="6.8"/>
<rect x="141.3" y="1039.6" width="6.8" height="6.8"/>
<rect x="144.8" y="1040.2" width="6.8" height="6.8"/>
<rect x="148.2" y="1040.8" width="6.8" height="6.8"/>
<path d="M114.8 1018.3V1008.4H137.8V1018.3" stroke="#000" stroke-width="2.4" fill="none" stroke-linecap="round" stroke-linejoin="miter"/>
<text x="126.5" y="1003.6" font-family="IPAGothic, sans-serif" font-size="17.3" font-weight="bold" stroke="#000" stroke-width="0.35" text-anchor="middle">**</text>
<circle cx="196.6" cy="1018.1" r="3.45"/>
<circle cx="196.6" cy="1028.9" r="3.45"/>
<circle cx="194.9" cy="1033.0" r="3.45"/>
<circle cx="198.9" cy="1035.4" r="3.45"/>
<circle cx="190.2" cy="1038.3" r="3.45"/>
<circle cx="202.4" cy="1038.3" r="3.45"/>
<circle cx="189.6" cy="1041.8" r="3.45"/>
<circle cx="193.7" cy="1042.4" r="3.45"/>
<circle cx="198.4" cy="1042.4" r="3.45"/>
<circle cx="203.6" cy="1041.8" r="3.45"/>
<circle cx="192.5" cy="1044.4" r="3.45"/>
<circle cx="202.4" cy="1044.4" r="3.45"/>
<circle cx="196.5" cy="1039.0" r="3.45"/>
<rect x="226.7" y="1025.5" width="6.8" height="6.8"/>
<rect x="217.7" y="1030.2" width="6.8" height="6.8"/>
<rect x="222.4" y="1033.1" width="6.8" height="6.8"/>
<rect x="217.7" y="1037.8" width="6.8" height="6.8"/>
<rect x="227.1" y="1037.8" width="6.8" height="6.8"/>
<rect x="231.2" y="1037.8" width="6.8" height="6.8"/>
<rect x="222.6" y="1038.6" width="6.8" height="6.8"/>
<circle cx="279.8" cy="1010.0" r="3.45"/>
<circle cx="279.8" cy="1026.5" r="3.45"/>
<circle cx="283.0" cy="1029.5" r="3.45"/>
<circle cx="277.8" cy="1030.0" r="3.45"/>
<circle cx="272.7" cy="1037.2" r="3.45"/>
<circle cx="277.5" cy="1036.8" r="3.45"/>
<circle cx="282.3" cy="1036.8" r="3.45"/>
<circle cx="287.0" cy="1037.2" r="3.45"/>
<circle cx="273.0" cy="1041.0" r="3.45"/>
<circle cx="278.0" cy="1041.0" r="3.45"/>
<circle cx="283.0" cy="1041.0" r="3.45"/>
<circle cx="287.0" cy="1041.0" r="3.45"/>
<circle cx="280.0" cy="1033.5" r="3.45"/>
<circle cx="275.5" cy="1043.5" r="3.45"/>
<circle cx="285.0" cy="1043.5" r="3.45"/>
<rect x="310.0" y="1029.0" width="6.8" height="6.8"/>
<rect x="301.2" y="1030.1" width="6.8" height="6.8"/>
<rect x="315.3" y="1032.5" width="6.8" height="6.8"/>
<rect x="301.2" y="1036.0" width="6.8" height="6.8"/>
<rect x="308.8" y="1036.6" width="6.8" height="6.8"/>
<rect x="314.6" y="1036.6" width="6.8" height="6.8"/>
<rect x="301.8" y="1039.5" width="6.8" height="6.8"/>
<rect x="308.8" y="1039.5" width="6.8" height="6.8"/>
<rect x="315.0" y="1039.5" width="6.8" height="6.8"/>
<circle cx="363.2" cy="941.7" r="3.45"/>
<circle cx="363.2" cy="987.3" r="3.45"/>
<circle cx="363.2" cy="994.2" r="3.45"/>
<circle cx="363.2" cy="1002.4" r="3.45"/>
<circle cx="363.2" cy="1010.8" r="3.45"/>
<circle cx="363.2" cy="1015.1" r="3.45"/>
<circle cx="363.4" cy="1029.2" r="3.45"/>
<circle cx="357.5" cy="1038.0" r="3.45"/>
<circle cx="363.0" cy="1037.5" r="3.45"/>
<circle cx="369.0" cy="1038.5" r="3.45"/>
<circle cx="357.5" cy="1041.5" r="3.45"/>
<circle cx="363.5" cy="1041.5" r="3.45"/>
<circle cx="369.0" cy="1041.5" r="3.45"/>
<circle cx="360.0" cy="1042.6" r="3.45"/>
<circle cx="366.0" cy="1042.6" r="3.45"/>
<circle cx="363.4" cy="1033.6" r="3.45"/>
<rect x="387.1" y="1034.0" width="6.8" height="6.8"/>
<rect x="393.6" y="1034.2" width="6.8" height="6.8"/>
<rect x="384.2" y="1037.2" width="6.8" height="6.8"/>
<rect x="389.6" y="1037.6" width="6.8" height="6.8"/>
<rect x="395.6" y="1037.4" width="6.8" height="6.8"/>
<rect x="397.9" y="1037.2" width="6.8" height="6.8"/>
<path d="M363.5 930.9V921.6H386.9V930.9" stroke="#000" stroke-width="2.4" fill="none" stroke-linecap="round" stroke-linejoin="miter"/>
<text x="375.9" y="916.9" font-family="IPAGothic, sans-serif" font-size="17.3" font-weight="bold" stroke="#000" stroke-width="0.35" text-anchor="middle">**</text>
<circle cx="446.2" cy="907.1" r="3.45"/>
<circle cx="446.2" cy="932.2" r="3.45"/>
<circle cx="443.0" cy="961.1" r="3.45"/>
<circle cx="449.3" cy="965.3" r="3.45"/>
<circle cx="443.0" cy="968.5" r="3.45"/>
<circle cx="446.2" cy="975.0" r="3.45"/>
<circle cx="452.9" cy="984.8" r="3.45"/>
<circle cx="448.3" cy="985.6" r="3.45"/>
<circle cx="443.6" cy="988.0" r="3.45"/>
<circle cx="448.9" cy="992.6" r="3.45"/>
<circle cx="445.9" cy="995.5" r="3.45"/>
<circle cx="442.8" cy="1007.0" r="3.45"/>
<circle cx="449.8" cy="1007.8" r="3.45"/>
<circle cx="446.2" cy="1011.9" r="3.45"/>
<circle cx="449.4" cy="1016.6" r="3.45"/>
<circle cx="442.8" cy="1023.3" r="3.45"/>
<circle cx="439.5" cy="1027.7" r="3.45"/>
<circle cx="445.9" cy="1028.0" r="3.45"/>
<circle cx="451.8" cy="1028.0" r="3.45"/>
<circle cx="448.9" cy="1025.9" r="3.45"/>
<rect x="470.6" y="1007.3" width="6.8" height="6.8"/>
<rect x="477.0" y="1009.4" width="6.8" height="6.8"/>
<rect x="467.6" y="1018.4" width="6.8" height="6.8"/>
<rect x="474.1" y="1017.8" width="6.8" height="6.8"/>
<rect x="480.5" y="1017.8" width="6.8" height="6.8"/>
<rect x="467.6" y="1021.3" width="6.8" height="6.8"/>
<path d="M446.3 898.3V888.4H469.9V898.3" stroke="#000" stroke-width="2.4" fill="none" stroke-linecap="round" stroke-linejoin="miter"/>
<text x="458.5" y="884.0" font-family="IPAGothic, sans-serif" font-size="17.3" font-weight="bold" stroke="#000" stroke-width="0.35" text-anchor="middle">***</text>
<circle cx="529.3" cy="773.8" r="3.45"/>
<circle cx="529.3" cy="817.1" r="3.45"/>
<circle cx="529.3" cy="849.3" r="3.45"/>
<circle cx="522.5" cy="856.6" r="3.45"/>
<circle cx="536.3" cy="857.2" r="3.45"/>
<circle cx="527.0" cy="862.8" r="3.45"/>
<circle cx="531.6" cy="866.8" r="3.45"/>
<circle cx="527.2" cy="886.2" r="3.45"/>
<circle cx="522.5" cy="890.1" r="3.45"/>
<circle cx="527.0" cy="893.8" r="3.45"/>
<circle cx="531.9" cy="895.5" r="3.45"/>
<circle cx="522.5" cy="905.4" r="3.45"/>
<circle cx="531.6" cy="909.5" r="3.45"/>
<circle cx="522.5" cy="912.7" r="3.45"/>
<circle cx="527.0" cy="916.2" r="3.45"/>
<circle cx="531.6" cy="920.3" r="3.45"/>
<circle cx="527.0" cy="933.3" r="3.45"/>
<circle cx="531.8" cy="933.2" r="3.45"/>
<circle cx="529.3" cy="944.3" r="3.45"/>
<circle cx="529.3" cy="955.3" r="3.45"/>
<circle cx="531.7" cy="966.9" r="3.45"/>
<circle cx="527.1" cy="973.0" r="3.45"/>
<circle cx="526.9" cy="991.5" r="3.45"/>
<circle cx="531.7" cy="990.8" r="3.45"/>
<rect x="559.5" y="928.3" width="6.8" height="6.8"/>
<rect x="555.1" y="931.6" width="6.8" height="6.8"/>
<rect x="550.8" y="947.7" width="6.8" height="6.8"/>
<rect x="555.0" y="942.2" width="6.8" height="6.8"/>
<rect x="559.9" y="942.8" width="6.8" height="6.8"/>
<rect x="564.7" y="942.8" width="6.8" height="6.8"/>
<rect x="550.6" y="943.1" width="6.8" height="6.8"/>
<path d="M530.5 764.0V754.3H550.6V764.0" stroke="#000" stroke-width="2.4" fill="none" stroke-linecap="round" stroke-linejoin="miter"/>
<text x="541.1" y="749.5" font-family="IPAGothic, sans-serif" font-size="17.3" font-weight="bold" stroke="#000" stroke-width="0.35" text-anchor="middle">**</text>
</g>
</svg>
</body></html>
